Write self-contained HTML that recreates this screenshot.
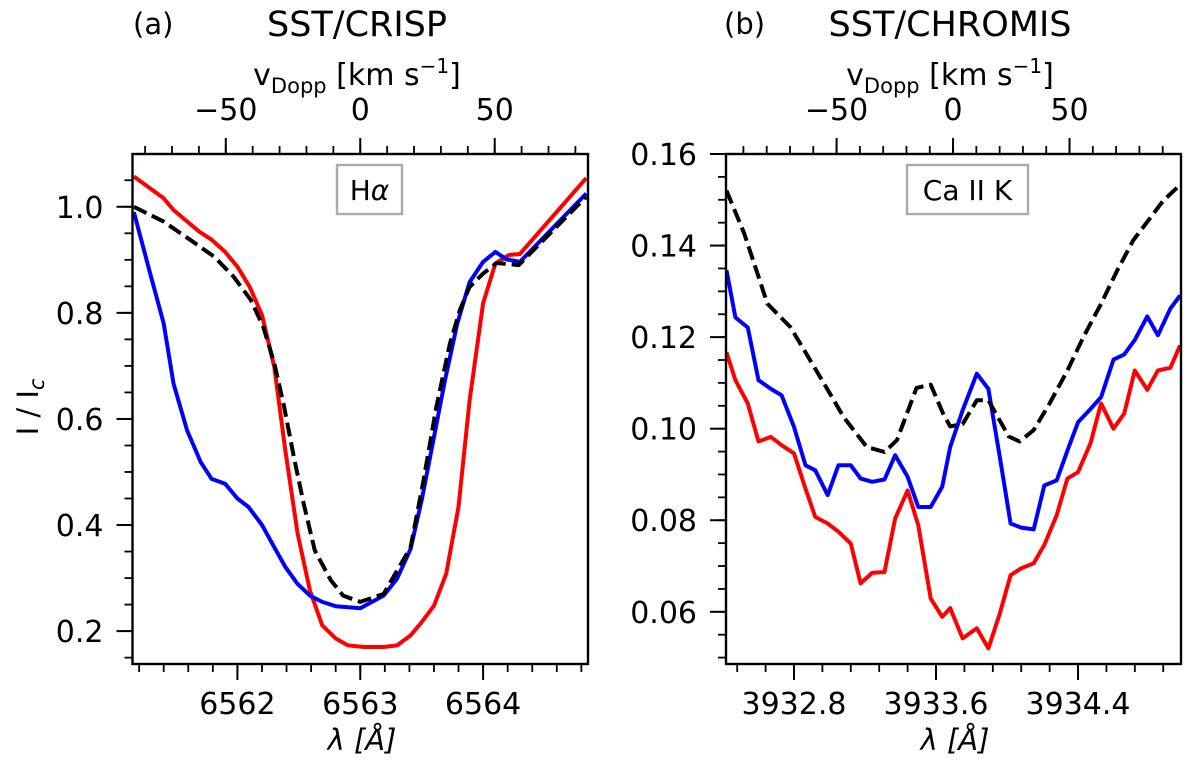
<!DOCTYPE html>
<html><head><meta charset="utf-8"><style>
html,body{margin:0;padding:0;background:#fff;}
svg{display:block;font-family:"DejaVu Sans","Liberation Sans",sans-serif;}
</style></head><body>
<svg id="fig" width="1200" height="761" viewBox="0 0 1200 761"></svg>
<script>
// ---------- Panel (a) H-alpha data ----------
const haRedX=[6561.157,6561.40,6561.48,6561.69,6561.79,6561.90,6562.00,6562.10,6562.20,6562.30,6562.39,6562.49,6562.59,6562.69,6562.80,6562.90,6563.03,6563.08,6563.19,6563.30,6563.41,6563.50,6563.60,6563.70,6563.80,6563.89,6564.00,6564.10,6564.21,6564.30,6564.84];
const haRedY=[1.057,1.016,0.994,0.953,0.938,0.915,0.887,0.849,0.796,0.698,0.541,0.384,0.277,0.211,0.186,0.173,0.170,0.170,0.170,0.173,0.192,0.217,0.248,0.308,0.434,0.635,0.818,0.893,0.909,0.911,1.054];
const haBlackX=[6561.157,6561.40,6561.62,6561.81,6561.97,6562.11,6562.21,6562.30,6562.38,6562.46,6562.54,6562.63,6562.76,6562.86,6563.0,6563.19,6563.41,6563.51,6563.62,6563.73,6563.81,6563.89,6564.00,6564.11,6564.29,6564.84];
const haBlackY=[1.0,0.972,0.937,0.906,0.868,0.824,0.774,0.705,0.623,0.528,0.440,0.352,0.296,0.267,0.255,0.270,0.358,0.478,0.623,0.742,0.805,0.849,0.874,0.894,0.890,1.019];
const haBlueX=[6561.157,6561.29,6561.40,6561.48,6561.59,6561.70,6561.79,6561.90,6562.00,6562.09,6562.20,6562.30,6562.39,6562.49,6562.59,6562.69,6562.80,6563.0,6563.19,6563.30,6563.41,6563.50,6563.60,6563.69,6563.79,6563.89,6564.00,6564.10,6564.19,6564.30,6564.84];
const haBlueY=[0.99,0.874,0.780,0.667,0.579,0.519,0.487,0.478,0.450,0.434,0.400,0.358,0.321,0.289,0.267,0.255,0.247,0.243,0.267,0.299,0.355,0.447,0.566,0.673,0.780,0.858,0.896,0.915,0.901,0.896,1.025];
const haXTicks=[6562,6563,6564];
const haYTicks=[0.2,0.4,0.6,0.8,1.0];
const vTicks=[-50,0,50];

// ---------- Panel (b) Ca II K data ----------
const caX=[3932.42,3932.47,3932.54,3932.60,3932.67,3932.73,3932.80,3932.865,3932.92,3932.99,3933.05,3933.12,3933.175,3933.24,3933.31,3933.37,3933.44,3933.50,3933.57,3933.635,
 3933.68,3933.75,3933.83,3933.895,3933.96,3934.02,3934.08,3934.15,3934.21,3934.28,3934.34,3934.40,3934.47,3934.53,3934.60,3934.66,3934.72,3934.79,3934.85,3934.92,3934.975];
const caBlue=[0.1346,0.1243,0.1221,0.1106,0.1087,0.1073,0.1004,0.0920,0.0909,0.0855,0.0920,0.0920,0.0891,0.0884,0.0889,0.0942,0.0895,0.0829,0.0829,0.0873,
 0.0960,0.1040,0.1120,0.1087,0.0937,0.0793,0.0784,0.0780,0.0876,0.0887,0.0952,0.1014,0.1043,0.1069,0.1151,0.1162,0.1194,0.1245,0.1204,0.1262,0.1291];
const caRed=[0.1167,0.1106,0.1055,0.0972,0.0982,0.0964,0.0946,0.0869,0.0807,0.0793,0.0775,0.0749,0.0662,0.0685,0.0687,0.0804,0.0865,0.0789,0.0629,0.0589,
 0.0608,0.0542,0.0564,0.0520,0.0597,0.0680,0.0695,0.0706,0.0746,0.0811,0.0891,0.0905,0.0968,0.1055,0.1000,0.1033,0.1127,0.1085,0.1127,0.1133,0.1182];
const caBlackX=[3932.42,3932.52,3932.65,3932.78,3932.97,3933.08,3933.21,3933.31,3933.38,3933.49,3933.57,3933.64,3933.68,3933.75,3933.83,3933.895,3934.01,3934.07,3934.15,3934.24,3934.34,3934.43,3934.53,3934.62,3934.71,3934.81,3934.88,3934.96];
const caBlackY=[0.152,0.1426,0.1273,0.1222,0.1098,0.1025,0.0960,0.0949,0.0975,0.1089,0.1096,0.1033,0.1005,0.1010,0.1062,0.1062,0.0983,0.0972,0.0997,0.1055,0.1127,0.1200,0.1273,0.1345,0.1411,0.1462,0.1498,0.1527];
const caXTicks=[3932.8,3933.6,3934.4];
const caYTicks=[0.06,0.08,0.10,0.12,0.14,0.16];

const NS="http://www.w3.org/2000/svg";
const svg=document.getElementById('fig');
function el(tag,attrs,parent){const e=document.createElementNS(NS,tag);for(const k in attrs)e.setAttribute(k,attrs[k]);(parent||svg).appendChild(e);return e;}
const C=299792.458;

function panel(cfg){
  const g=el('g',{});
  
  
  const L=cfg.left,R=cfg.right,T=154,B=664;
  const sx=v=>L+(v-cfg.xmin)/(cfg.xmax-cfg.xmin)*(R-L);
  const sy=v=>B-(v-cfg.ymin)/(cfg.ymax-cfg.ymin)*(B-T);
  const vx=v=>sx(cfg.lam0*(1+v/C));
  const cp=el('clipPath',{id:'clip'+cfg.id},g);
  el('rect',{x:L,y:T,width:R-L,height:B-T},cp);
  cfg.series.forEach(s=>{
    let d='';
    s.x.forEach((xv,i)=>{d+=(i?'L':'M')+sx(xv).toFixed(1)+','+sy(s.y[i]).toFixed(1);});
    const p=el('path',{d:d,fill:'none',stroke:s.color,'stroke-width':4,'stroke-linejoin':'round','clip-path':'url(#clip'+cfg.id+')'},g);
    if(s.dash)p.setAttribute('stroke-dasharray','14,6');
    
    
  });
  const fr=el('rect',{x:L,y:T,width:R-L,height:B-T,fill:'none',stroke:'#000','stroke-width':2.4},g);
  
  
  const xMinor=cfg.xMinor;
  for(let v=Math.ceil(cfg.xmin/xMinor)*xMinor;v<=cfg.xmax;v+=xMinor){
    const x=sx(v);el('line',{x1:x,x2:x,y1:B,y2:B+8,stroke:'#000','stroke-width':1.8},g);
  }
  cfg.xTicks.forEach(v=>{
    const x=sx(v);el('line',{x1:x,x2:x,y1:B,y2:B+16,stroke:'#000','stroke-width':2},g);
    const t=el('text',{x:x,y:714,'font-size':30,'text-anchor':'middle'},g);
    t.textContent=cfg.xFmt(v);
    
    
  });
  for(let v=Math.ceil(cfg.ymin/cfg.yMinor-1e-6)*cfg.yMinor;v<=cfg.ymax+1e-9;v+=cfg.yMinor){
    const y=sy(v);el('line',{x1:L-8,x2:L,y1:y,y2:y,stroke:'#000','stroke-width':1.8},g);
  }
  cfg.yTicks.forEach(v=>{
    const y=sy(v);el('line',{x1:L-16,x2:L,y1:y,y2:y,stroke:'#000','stroke-width':2},g);
    const t=el('text',{x:L-29,y:y+11,'font-size':30,'text-anchor':'end'},g);
    t.textContent=v.toFixed(cfg.yDec);
    
    
  });
  const vmin=(cfg.xmin/cfg.lam0-1)*C,vmax=(cfg.xmax/cfg.lam0-1)*C;
  for(let v=Math.ceil(vmin/10)*10;v<=vmax;v+=10){
    const x=vx(v);el('line',{x1:x,x2:x,y1:T-8,y2:T,stroke:'#000','stroke-width':1.8},g);
  }
  vTicks.forEach(v=>{
    const x=vx(v);el('line',{x1:x,x2:x,y1:T-16,y2:T,stroke:'#000','stroke-width':2},g);
    const t=el('text',{x:x,y:120,'font-size':30,'text-anchor':'middle'},g);
    t.textContent=v<0?'\u2212'+Math.abs(v):String(v);
    
    
  });
  const vl=el('text',{x:cfg.vLabelX,y:85,'font-size':30,'text-anchor':'middle'},g);
  vl.innerHTML='v<tspan font-size="21" dy="8">Dopp</tspan><tspan dy="-8"> [km s</tspan><tspan font-size="20" dy="-12">\u22121</tspan><tspan dy="12">]</tspan>';
  
  
  const xl=el('text',{x:cfg.xLabelX,y:750,'font-size':29,'text-anchor':'middle','font-style':'italic'},g);
  xl.textContent='\u03bb [\u00c5]';
  
  
  const tt=el('text',{x:cfg.titleX,y:36,'font-size':35,'text-anchor':'middle'},g);
  tt.textContent=cfg.title;
  
  
  const pl=el('text',{x:cfg.plabelX,y:34,'font-size':29,'text-anchor':'start'},g);
  pl.textContent=cfg.plabel;
  
  
  const bx=el('rect',{x:cfg.box[0],y:165,width:cfg.box[1]-cfg.box[0],height:49,fill:'#fff',stroke:'#aaa','stroke-width':2.4},g);
  
  
  const bt=el('text',{x:(cfg.box[0]+cfg.box[1])/2,y:200,'font-size':28,'text-anchor':'middle'},g);
  bt.innerHTML=cfg.boxText;
  
  
}

panel({id:'a',name:'panel-a-halpha',left:132.5,right:588,xmin:6561.146,xmax:6564.854,ymin:0.138,ymax:1.0995,lam0:6563.0,
  xMinor:0.2,yMinor:0.05,xTicks:haXTicks,yTicks:haYTicks,yDec:1,xFmt:v=>String(v),
  vLabelX:357,xLabelX:362,titleX:357,title:'SST/CRISP',plabelX:133,plabel:'(a)',box:[337,402],
  boxText:'H<tspan font-style="italic">\u03b1</tspan>',
  series:[{name:'halpha-red-profile',x:haRedX,y:haRedY,color:'#ff0000'},
          {name:'halpha-blue-profile',x:haBlueX,y:haBlueY,color:'#0000ff'},
          {name:'halpha-reference-profile',x:haBlackX,y:haBlackY,color:'#000',dash:true}]});
panel({id:'b',name:'panel-b-caiik',left:726,right:1181,xmin:3932.417,xmax:3934.98,ymin:0.0486,ymax:0.16,lam0:3933.696,
  xMinor:0.16,yMinor:0.005,xTicks:caXTicks,yTicks:caYTicks,yDec:2,xFmt:v=>v.toFixed(1),
  vLabelX:950,xLabelX:955,titleX:950,title:'SST/CHROMIS',plabelX:724,plabel:'(b)',box:[907,1028],
  boxText:'Ca II K',
  series:[{name:'caiik-red-profile',x:caX,y:caRed,color:'#ff0000'},
          {name:'caiik-blue-profile',x:caX,y:caBlue,color:'#0000ff'},
          {name:'caiik-reference-profile',x:caBlackX,y:caBlackY,color:'#000',dash:true}]});

const yl=el('text',{x:0,y:0,'font-size':29,'text-anchor':'middle',transform:'translate(38,407) rotate(-90)'});
yl.innerHTML='I / I<tspan font-size="21" dy="6" font-style="italic">c</tspan>';


</script>
</body></html>
